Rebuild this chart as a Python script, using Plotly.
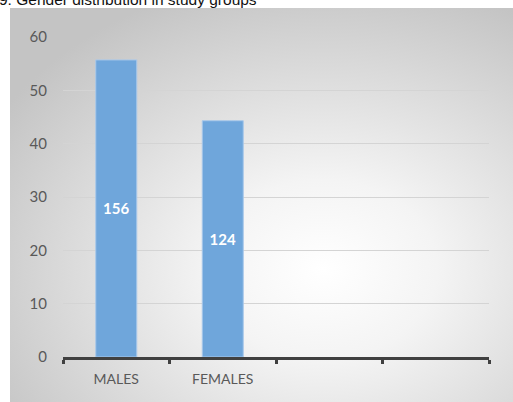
import plotly.graph_objects as go
import urllib.parse

# Gender distribution data
categories = ["MALES", "FEMALES", " ", "  "]
percent = [55.7, 44.3, None, None]
counts = ["156", "124", "", ""]
y_ticks = [0, 10, 20, 30, 40, 50, 60]

W, H = 513, 402
L, R, T, B = 63, 24, 37, 45
pw, ph = W - L - R, H - T - B

def px_x(p):
    return (p - L) / pw

def px_y(p):
    return (H - B - p) / ph

# radial grey backdrop of the chart box
svg = (
    "<svg xmlns='http://www.w3.org/2000/svg' width='600' height='500' preserveAspectRatio='none'>"
    "<defs><radialGradient id='g' cx='62%' cy='66%' r='75%' fx='62%' fy='66%'>"
    "<stop offset='0' stop-color='#ffffff'/>"
    "<stop offset='0.3' stop-color='#f4f4f4'/>"
    "<stop offset='1' stop-color='#c4c4c4'/>"
    "</radialGradient></defs>"
    "<rect width='600' height='500' fill='url(#g)'/></svg>"
)
src = "data:image/svg+xml;charset=utf-8," + urllib.parse.quote(svg)

fig = go.Figure(
    go.Bar(
        x=categories,
        y=percent,
        text=counts,
        textposition="inside",
        insidetextanchor="middle",
        textangle=0,
        textfont=dict(family="Lato, Open Sans, sans-serif", size=15, color="white", weight="bold"),
        marker=dict(color="#6fa6db", line=dict(color="#a8c8ea", width=1)),
        hoverinfo="skip",
    )
)

fig.add_layout_image(
    source=src,
    xref="paper", yref="paper",
    x=px_x(10), y=px_y(8),
    sizex=px_x(W + 2) - px_x(10), sizey=px_y(8) - px_y(H + 2),
    xanchor="left", yanchor="top",
    sizing="stretch", layer="below",
)

fig.add_annotation(
    text="9. Gender distribution in study groups",
    xref="paper", yref="paper",
    x=px_x(-3), y=1, xanchor="left", yanchor="bottom",
    yshift=27, showarrow=False,
    font=dict(family="Liberation Sans, Arial, sans-serif", size=15.5, color="#111111"),
)

fig.update_layout(
    width=W, height=H,
    margin=dict(l=L, r=R, t=T, b=B, pad=0),
    paper_bgcolor="white",
    plot_bgcolor="rgba(0,0,0,0)",
    bargap=0.615,
    showlegend=False,
    xaxis=dict(
        type="category",
        categoryorder="array",
        categoryarray=categories,
        range=[-0.5, 3.5],
        showline=True, linecolor="#404040", linewidth=3,
        ticks="outside", tickson="boundaries",
        tickcolor="#404040", tickwidth=3, ticklen=4,
        showgrid=False,
        tickfont=dict(family="Lato, Open Sans, sans-serif", size=14, color="#595959"),
        ticklabelstandoff=7,
    ),
    yaxis=dict(
        range=[0, 60],
        tickvals=y_ticks,
        showgrid=True, gridcolor="#d4d4d4", gridwidth=1,
        zeroline=False, showline=False,
        tickfont=dict(family="Lato, Open Sans, sans-serif", size=15, color="#595959"),
        ticklabelstandoff=15,
    ),
)

fig.write_html("out.html")
